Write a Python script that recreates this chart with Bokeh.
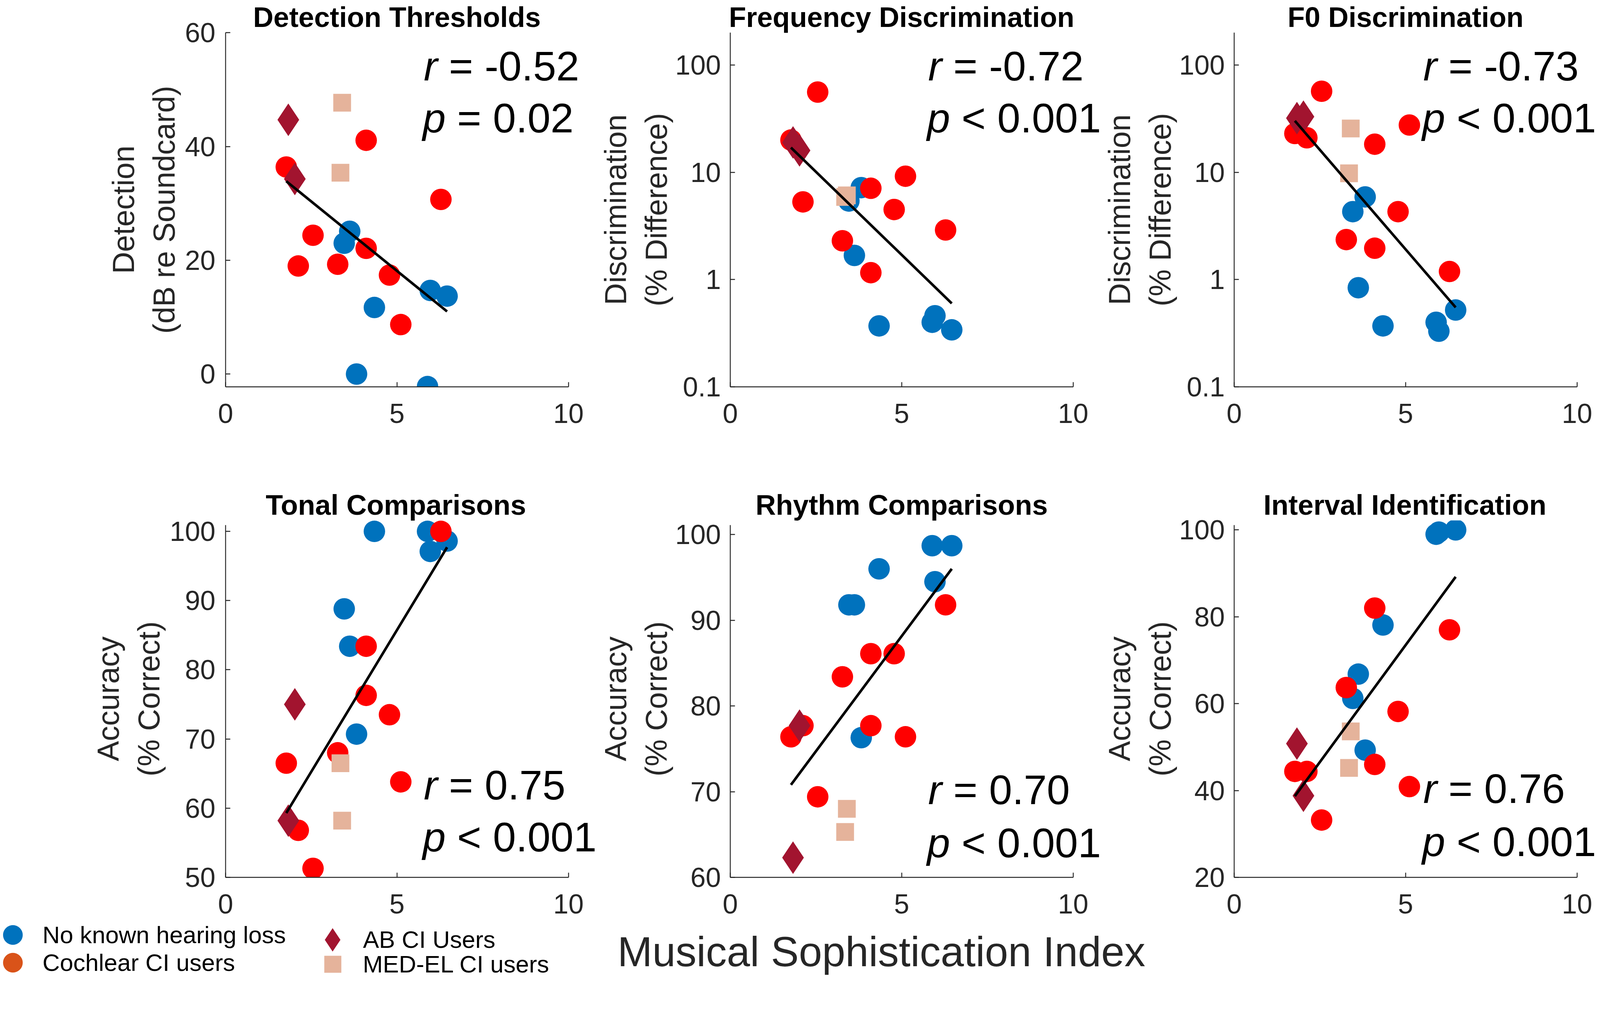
import math
from bokeh.plotting import figure
from bokeh.models import (Range1d, FixedTicker, Label, Legend, LegendItem,
                          CustomJSTickFormatter)
from bokeh.layouts import row, column
from bokeh.embed import file_html
from bokeh.resources import INLINE

# ---------------- data ----------------
msi_nh = [3.46, 3.62, 3.82, 4.34, 5.89, 5.97, 6.46]
msi_cochlear = [1.77, 2.12, 2.55, 3.27, 4.10, 4.10, 4.78, 5.11, 6.28]
msi_ab = [1.83, 2.02]
msi_medel = [3.35, 3.40]

detection_nh = [23.0, 25.1, 0.0, 11.7, -2.2, 14.7, 13.7]
detection_cochlear = [36.4, 19.0, 24.4, 19.3, 41.1, 22.1, 17.4, 8.7, 30.7]
detection_ab = [44.7, 34.3]
detection_medel = [35.4, 47.7]

freq_nh = [5.4, 1.68, 7.2, 0.37, 0.40, 0.46, 0.34]
freq_cochlear = [20.0, 5.3, 56.0, 2.3, 7.1, 1.16, 4.5, 9.2, 2.9]
freq_ab = [19.0, 16.0]
freq_medel = [5.9, 6.1]

f0_nh = [4.3, 0.84, 5.9, 0.37, 0.40, 0.33, 0.52]
f0_cochlear = [23.0, 21.0, 57.0, 2.36, 18.3, 1.96, 4.3, 27.6, 1.19]
f0_ab = [32.0, 33.0]
f0_medel = [9.8, 25.6]

tonal_nh = [88.8, 83.4, 70.7, 100.0, 100.0, 97.1, 98.6]
tonal_cochlear = [66.5, 56.8, 51.3, 68.0, 83.4, 76.3, 73.5, 63.8, 100.0]
tonal_ab = [58.2, 75.0]
tonal_medel = [66.5, 58.2]

rhythm_nh = [91.8, 91.8, 76.3, 96.0, 98.7, 94.5, 98.7]
rhythm_cochlear = [76.4, 77.7, 69.4, 83.4, 86.1, 77.7, 86.1, 76.4, 91.8]
rhythm_ab = [62.3, 77.7]
rhythm_medel = [65.3, 68.0]

interval_nh = [61.2, 66.8, 49.3, 78.1, 99.0, 99.5, 100.0]
interval_cochlear = [44.4, 44.4, 33.2, 63.7, 82.0, 46.0, 58.2, 40.9, 77.0]
interval_ab = [50.8, 38.8]
interval_medel = [45.2, 53.6]

fit_msi = [1.77, 6.46]
fit_detection = [33.9, 11.0]
fit_freq = [17.0, 0.60]
fit_f0 = [30.2, 0.55]
fit_tonal = [59.3, 97.7]
fit_rhythm = [70.8, 96.0]
fit_interval = [38.7, 89.2]

titles = ["Detection Thresholds", "Frequency Discrimination", "F0 Discrimination",
          "Tonal Comparisons", "Rhythm Comparisons", "Interval Identification"]
y_labels = ["Detection\n(dB re Soundcard)", "Discrimination\n(% Difference)",
            "Discrimination\n(% Difference)", "Accuracy\n(% Correct)",
            "Accuracy\n(% Correct)", "Accuracy\n(% Correct)"]
r_values = ["-0.52", "-0.72", "-0.73", "0.75", "0.70", "0.76"]
p_values = ["= 0.02", "< 0.001", "< 0.001", "< 0.001", "< 0.001", "< 0.001"]
x_ticks = [0, 5, 10]
y_ticks = [[0, 20, 40, 60], [0.1, 1, 10, 100], [0.1, 1, 10, 100],
           [50, 60, 70, 80, 90, 100], [60, 70, 80, 90, 100], [20, 40, 60, 80, 100]]
y_limits = [(-2.25, 60), (0.1, 200), (0.1, 200), (50, 100.9), (60, 101.1), (20, 101.1)]
y_log = [False, True, True, False, False, False]
legend_labels = ["No known hearing loss", "Cochlear CI users", "AB CI Users", "MED-EL CI users"]
x_label = "Musical Sophistication Index"

series = [
    (detection_nh, detection_cochlear, detection_ab, detection_medel, fit_detection),
    (freq_nh, freq_cochlear, freq_ab, freq_medel, fit_freq),
    (f0_nh, f0_cochlear, f0_ab, f0_medel, fit_f0),
    (tonal_nh, tonal_cochlear, tonal_ab, tonal_medel, fit_tonal),
    (rhythm_nh, rhythm_cochlear, rhythm_ab, rhythm_medel, fit_rhythm),
    (interval_nh, interval_cochlear, interval_ab, interval_medel, fit_interval),
]

# ---------------- styling ----------------
BLUE = "#0072BD"
RED = "#FF0000"
ORANGE = "#D95319"
AB_COL = "#A2142F"
MED_COL = "#E5B39B"
AXIS_COL = "#262626"
FONT = "Liberation Sans"

# layout designed in reference-image pixels, converted to CSS px
S = 1 / 1.055


def css(v):
    return v * S


def fpx(v):
    return "%.1fpx" % css(v)


# advance widths (1/1000 em) of the bold sans font, used to centre titles
BOLD_W = {" ": 278, "0": 556, "C": 722, "D": 722, "F": 611, "I": 278, "R": 722,
          "T": 611, "a": 556, "c": 556, "d": 611, "e": 556, "f": 333, "h": 611,
          "i": 278, "l": 278, "m": 889, "n": 611, "o": 611, "p": 611, "q": 611,
          "r": 389, "s": 556, "t": 333, "u": 611, "y": 556}


def bold_width(txt, size_css):
    return sum(BOLD_W.get(ch, 600) for ch in txt) / 1000.0 * size_css


COL_BOUNDS = [0, round(css(1614)), round(css(2970)), round(css(4315))]
ROW_BOUNDS = [0, round(css(1300)), round(css(2497)), round(css(2643))]
REF_FRAME_LEFT = [609, 1966, 3323]
COL_FRAME_LEFT = [round(css(v)) for v in REF_FRAME_LEFT]
X_PPU = css(926) / 10.0
ROW_FRAME_TOP = [round(css(88)), round(css(1405))]
ROW_AXIS_TOP = [css(88), css(1418)]
ROW_AXIS_BOTTOM = [round(css(1044)), round(css(2370))]
TITLE_SIZE = 76
STAT_SIZE = 112
STAT_SHIFT = [-6, -6, -30]
STAT_CENTER = [[(178, 319), (178, 319), (178, 319)],
               [(2121, 2261), (2133, 2277), (2130, 2273)]]
YTICK_STANDOFF = [27, 25, 25]
YLABEL_STANDOFF = [8, 3, 3]
LEGEND_SIZE = 65


def make_y(ri, y0, y1, log):
    top = ROW_AXIS_TOP[ri]
    bottom = ROW_AXIS_BOTTOM[ri]
    l0, l1 = (math.log10(y0), math.log10(y1)) if log else (y0, y1)
    ppu = (bottom - top) / (l1 - l0)

    def conv(ref_px):
        v = l0 + (bottom - css(ref_px)) / ppu
        return 10 ** v if log else v
    hi = l1 + (top - ROW_FRAME_TOP[ri]) / ppu
    rng = Range1d(10 ** l0 if log else l0, 10 ** hi if log else hi)
    return conv, rng


figs = []
for i in range(6):
    ri, ci = divmod(i, 3)
    start, end = COL_BOUNDS[ci], COL_BOUNDS[ci + 1]
    fl = COL_FRAME_LEFT[ci]
    fw = end - fl
    ftop = ROW_FRAME_TOP[ri]
    fbot = ROW_AXIS_BOTTOM[ri]
    y0, y1 = y_limits[i]
    log = y_log[i]
    conv, yr = make_y(ri, y0, y1, log)

    def xconv(ref_px, fl=fl):
        return (css(ref_px) - fl) / X_PPU

    p = figure(frame_width=fw, frame_height=fbot - ftop,
               min_border_left=fl - start, min_border_right=0,
               min_border_top=ftop - ROW_BOUNDS[ri],
               min_border_bottom=ROW_BOUNDS[ri + 1] - fbot,
               x_range=Range1d(0, fw / X_PPU), y_range=yr,
               y_axis_type="log" if log else "linear",
               toolbar_location=None, output_backend="svg",
               outline_line_color=None, background_fill_color="white",
               border_fill_color="white")
    p.xgrid.visible = False
    p.ygrid.visible = False

    # panel title, centred over the axis extent
    tsize = css(TITLE_SIZE)
    p.title.text = titles[i]
    p.title.text_font = FONT
    p.title.text_font_size = "%.1fpx" % tsize
    p.title.text_font_style = "bold"
    p.title.text_color = "black"
    p.title.align = "left"
    p.title.vertical_align = "bottom"
    p.title.standoff = 0
    p.title.offset = X_PPU * 5 - bold_width(titles[i], tsize) / 2

    for ax in (p.xaxis[0], p.yaxis[0]):
        ax.axis_line_color = AXIS_COL
        ax.axis_line_width = css(2.5)
        ax.major_tick_line_color = AXIS_COL
        ax.major_tick_line_width = css(2.5)
        ax.major_tick_in = round(css(13))
        ax.major_tick_out = 0
        ax.minor_tick_line_color = None
        ax.major_label_text_font = FONT
        ax.major_label_text_font_size = fpx(74)
        ax.major_label_text_color = AXIS_COL

    p.xaxis.bounds = (0, 10)
    p.xaxis.ticker = FixedTicker(ticks=x_ticks)
    p.xaxis.major_label_standoff = round(css(45))

    p.yaxis.bounds = (y0, y1)
    p.yaxis.ticker = FixedTicker(ticks=y_ticks[i])
    p.yaxis.major_label_standoff = round(css(YTICK_STANDOFF[ci]))
    if log:
        p.yaxis.formatter = CustomJSTickFormatter(code="return String(tick);")
    p.yaxis.axis_label = y_labels[i]
    p.yaxis.axis_label_text_font = FONT
    p.yaxis.axis_label_text_font_size = fpx(82)
    p.yaxis.axis_label_text_font_style = "normal"
    p.yaxis.axis_label_text_color = AXIS_COL
    p.yaxis.axis_label_standoff = round(css(YLABEL_STANDOFF[ci]))
    p.yaxis.axis_label_text_line_height = 1.2

    ys_nh, ys_co, ys_ab, ys_me, ys_fit = series[i]
    p.scatter(msi_nh, ys_nh, marker="circle", size=css(58),
              fill_color=BLUE, line_color=None)
    p.scatter(msi_cochlear, ys_co, marker="circle", size=css(58),
              fill_color=RED, line_color=None)
    p.scatter(msi_ab, ys_ab, marker="diamond", size=css(88),
              fill_color=AB_COL, line_color=None)
    p.scatter(msi_medel, ys_me, marker="square", size=css(48),
              fill_color=MED_COL, line_color=None)
    p.line(fit_msi, ys_fit, line_color="black", line_width=css(7))

    # statistics
    rc, pc = STAT_CENTER[ri][ci]
    rx = xconv(REF_FRAME_LEFT[ci] + 541 + STAT_SHIFT[ci])
    px_ = xconv(REF_FRAME_LEFT[ci] + 538 + STAT_SHIFT[ci])
    common = dict(text_baseline="middle", text_align="left",
                  text_font=FONT, text_font_size=fpx(STAT_SIZE), text_color="black")
    p.add_layout(Label(x=rx, y=conv(rc), text="r",
                       text_font_style="italic", **common))
    p.add_layout(Label(x=rx, y=conv(rc), x_offset=css(68),
                       text="= " + r_values[i], **common))
    p.add_layout(Label(x=px_, y=conv(pc), text="p",
                       text_font_style="italic", **common))
    p.add_layout(Label(x=px_, y=conv(pc), x_offset=css(93),
                       text=p_values[i], **common))
    figs.append(p)

# ---------------- legend + common x label strip ----------------
lw = COL_BOUNDS[3] - COL_BOUNDS[0]
lh = ROW_BOUNDS[3] - ROW_BOUNDS[2]
lf = figure(frame_width=lw, frame_height=lh, min_border_left=0,
            min_border_right=0, min_border_top=0, min_border_bottom=0,
            x_range=Range1d(0, 1), y_range=Range1d(0, 1),
            toolbar_location=None, output_backend="svg",
            outline_line_color=None, background_fill_color="white",
            border_fill_color="white")
lf.axis.visible = False
lf.grid.visible = False
# legend glyph renderers carry the real series; their values lie outside this strip's ranges
g_nh = lf.ellipse(msi_nh, tonal_nh, width=55, height=55, width_units="screen",
                  height_units="screen", fill_color=BLUE, line_color=None)
g_co = lf.ellipse(msi_cochlear, tonal_cochlear, width=55, height=55, width_units="screen",
                  height_units="screen", fill_color=ORANGE, line_color=None)
g_ab = lf.scatter(msi_ab, tonal_ab, marker="diamond", fill_color=AB_COL, line_color=None)
g_me = lf.scatter(msi_medel, tonal_medel, marker="square", fill_color=MED_COL, line_color=None)

frame_top = ROW_BOUNDS[2]
frame_bottom = ROW_BOUNDS[3]
half_text = 0.56 * css(LEGEND_SIZE)
row1_cy = frame_top + half_text + 4
row2_cy = frame_bottom - half_text - 1
pitch = int(row2_cy - row1_cy)
row2_cy = row1_cy + pitch
leg_common = dict(padding=0, margin=0, spacing=0, border_line_color=None,
                  background_fill_alpha=0, label_text_font=FONT,
                  label_text_font_size=fpx(LEGEND_SIZE), label_text_color="black")


def place(legend, left, top, height):
    legend.location = (left - COL_BOUNDS[0], frame_bottom - (top + height))
    lf.add_layout(legend)


# column 1: circles
gw = 69
left1 = css(34) - gw / 2
leg1 = Legend(items=[LegendItem(label=legend_labels[0], renderers=[g_nh]),
                     LegendItem(label=legend_labels[1], renderers=[g_co])],
              glyph_width=gw, glyph_height=pitch, label_height=pitch,
              label_standoff=round(css(115) - (left1 + gw)), **leg_common)
place(leg1, left1, row1_cy - pitch / 2, 2 * pitch)

# column 2: diamond and square, each with its own glyph box
col2_cx = css(898)
col2_tx = css(980)
box_ab = 150
left_ab = col2_cx - box_ab / 2
leg2 = Legend(items=[LegendItem(label=legend_labels[2], renderers=[g_ab])],
              glyph_width=box_ab, glyph_height=box_ab, label_height=box_ab,
              label_standoff=max(0, round(col2_tx - (left_ab + box_ab))), **leg_common)
place(leg2, left_ab, row1_cy - box_ab / 2, box_ab)

box_me = 109
left_me = col2_cx - box_me / 2
leg3 = Legend(items=[LegendItem(label=legend_labels[3], renderers=[g_me])],
              glyph_width=box_me, glyph_height=box_me, label_height=box_me,
              label_standoff=max(0, round(col2_tx - (left_me + box_me))), **leg_common)
place(leg3, left_me, row2_cy - box_me / 2, box_me)

lf.add_layout(Label(x=(css(2380) - COL_BOUNDS[0]) / lw,
                    y=(frame_bottom - css(2570)) / lh,
                    text=x_label, text_align="center",
                    text_baseline="middle", text_font=FONT,
                    text_font_size=fpx(113), text_color=AXIS_COL))

layout = column(row(figs[0], figs[1], figs[2]),
                row(figs[3], figs[4], figs[5]),
                lf)
open("out.html", "w").write(file_html(layout, INLINE))
